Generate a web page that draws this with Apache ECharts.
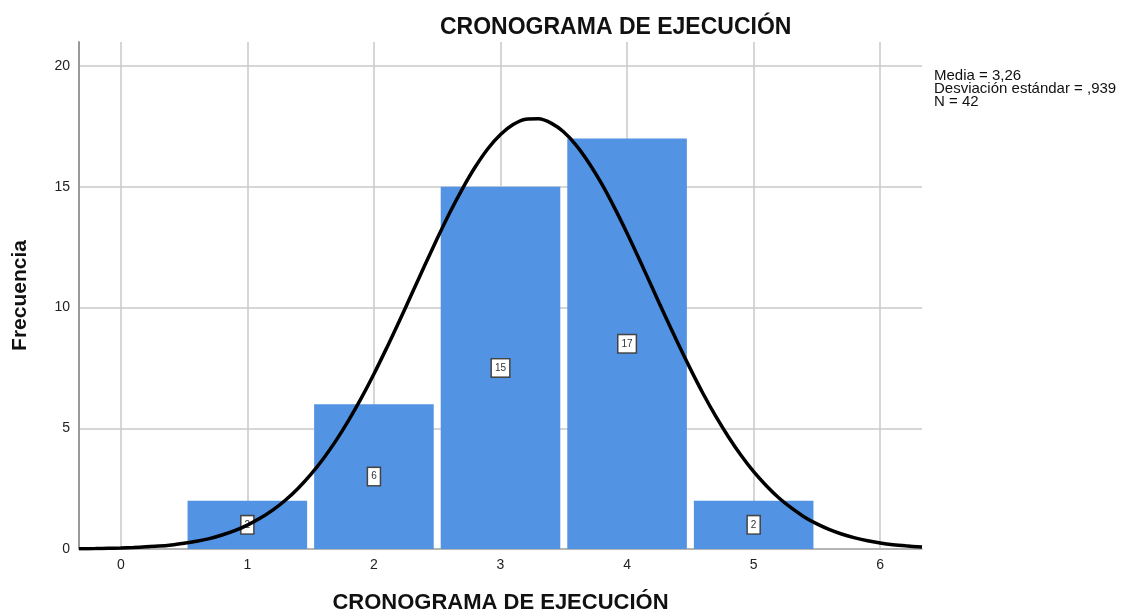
<!DOCTYPE html>
<html>
<head>
<meta charset="utf-8">
<script src="https://cdn.jsdelivr.net/npm/echarts@6/dist/echarts.min.js"></script>
<style>
  html, body { margin: 0; padding: 0; background: #fff; }
  #chart { width: 1129px; height: 610px; }
</style>
</head>
<body>
<div id="chart"></div>
<script>
// histogram bins and counts
const bins = [1, 2, 3, 4, 5];
const freq = [2, 6, 15, 17, 2];

// normal curve
const curveX = [-0.33, -0.2, -0.1, 0, 0.1, 0.2, 0.3, 0.4, 0.5, 0.6, 0.7, 0.8, 0.9,
  1, 1.1, 1.2, 1.3, 1.4, 1.5, 1.6, 1.7, 1.8, 1.9,
  2, 2.1, 2.2, 2.3, 2.4, 2.5, 2.6, 2.7, 2.8, 2.9,
  3, 3.1, 3.2, 3.3, 3.4, 3.5, 3.6, 3.7, 3.8, 3.9,
  4, 4.1, 4.2, 4.3, 4.4, 4.5, 4.6, 4.7, 4.8, 4.9,
  5, 5.1, 5.2, 5.3, 5.4, 5.5, 5.6, 5.7, 5.8, 5.9,
  6, 6.1, 6.2, 6.33];
const curveY = [0.01, 0.02, 0.03, 0.04, 0.06, 0.09, 0.12, 0.17, 0.24, 0.32, 0.43, 0.58, 0.76,
  0.99, 1.27, 1.61, 2.02, 2.51, 3.08, 3.74, 4.49, 5.33, 6.25,
  7.25, 8.32, 9.43, 10.58, 11.73, 12.86, 13.94, 14.93, 15.82, 16.58,
  17.17, 17.58, 17.8, 17.82, 17.64, 17.27, 16.71, 15.98, 15.12, 14.14,
  13.08, 11.96, 10.81, 9.66, 8.54, 7.46, 6.44, 5.5, 4.65, 3.88,
  3.2, 2.62, 2.11, 1.69, 1.33, 1.04, 0.8, 0.61, 0.46, 0.34,
  0.25, 0.18, 0.13, 0.08];

const xTicks = [0, 1, 2, 3, 4, 5, 6];
const yTicks = [0, 5, 10, 15, 20];

const statsLines = ["Media = 3,26", "Desviación estándar = ,939", "N = 42"];

let chart = echarts.init(document.getElementById("chart"));

let option = {
  animation: false,
  backgroundColor: "#fff",
  textStyle: { fontFamily: "Liberation Sans, Arial, sans-serif" },
  title: {
    text: "CRONOGRAMA DE EJECUCIÓN",
    left: 435,
    top: 11,
    textStyle: { fontSize: 23, fontWeight: "bold", color: "#111", fontFamily: "Liberation Sans, Arial, sans-serif" }
  },
  grid: { left: 79, right: 207, top: 42, bottom: 61, outerBoundsMode: "none" },
  xAxis: {
    type: "value",
    min: -0.33,
    max: 6.33,
    splitNumber: 7,
    name: "CRONOGRAMA DE EJECUCIÓN",
    nameLocation: "middle",
    nameGap: 43,
    nameTextStyle: { fontSize: 22, fontWeight: "bold", color: "#111" },
    axisLine: { show: true, onZero: false, lineStyle: { color: "#aaa", width: 1.5 } },
    axisTick: { show: false },
    axisLabel: {
      color: "#222",
      fontSize: 14,
      margin: 9,
      showMinLabel: false,
      showMaxLabel: false,
      formatter: v => (xTicks.indexOf(v) >= 0 ? String(v) : "")
    },
    splitLine: { show: true, showMinLine: false, showMaxLine: false, lineStyle: { color: "#c8c8c8", width: 1.5 } }
  },
  yAxis: {
    type: "value",
    min: 0,
    max: 21,
    interval: 5,
    name: "Frecuencia",
    nameLocation: "middle",
    nameGap: 48,
    nameTextStyle: { fontSize: 21, fontWeight: "bold", color: "#111" },
    axisLine: { show: true, onZero: false, lineStyle: { color: "#999", width: 2 } },
    axisTick: { show: false },
    axisLabel: {
      color: "#222",
      fontSize: 14,
      margin: 9,
      showMaxLabel: false,
      formatter: v => (yTicks.indexOf(v) >= 0 ? String(v) : "")
    },
    splitLine: { show: true, showMaxLine: false, lineStyle: { color: "#c8c8c8", width: 1.5 } }
  },
  graphic: [
    {
      type: "text",
      left: 934,
      top: 68,
      style: {
        text: statsLines.join("\n"),
        font: "15px Liberation Sans, Arial, sans-serif",
        lineHeight: 13,
        fill: "#111"
      }
    }
  ],
  series: [
    {
      type: "custom",
      z: 2,
      data: bins.map((b, i) => [b, freq[i]]),
      encode: { x: 0, y: 1 },
      renderItem: (params, api) => {
        let x = api.value(0);
        let v = api.value(1);
        let p0 = api.coord([x - 0.5, v]);
        let p1 = api.coord([x + 0.5, 0]);
        let mid = api.coord([x, v / 2]);
        return {
          type: "group",
          children: [
            {
              type: "rect",
              shape: { x: p0[0] + 3.5, y: p0[1], width: p1[0] - p0[0] - 7, height: p1[1] - p0[1] },
              style: { fill: "#5393e3" }
            },
            {
              type: "text",
              x: mid[0],
              y: mid[1],
              style: {
                text: String(v),
                font: "10px Liberation Sans, Arial, sans-serif",
                fill: "#333",
                align: "center",
                verticalAlign: "middle",
                backgroundColor: "#fff",
                borderColor: "#444",
                borderWidth: 1.5,
                padding: [4, 3, 3, 3]
              }
            }
          ]
        };
      }
    },
    {
      type: "line",
      z: 4,
      data: curveX.map((x, i) => [x, curveY[i]]),
      smooth: 0.3,
      showSymbol: false,
      symbol: "none",
      lineStyle: { color: "#000", width: 3.5 }
    }
  ]
};

chart.setOption(option);
</script>
</body>
</html>
